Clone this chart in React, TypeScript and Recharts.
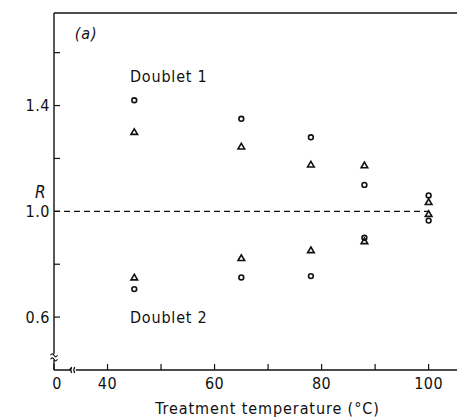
import * as React from 'react'
import {
  ReferenceDot,
  ReferenceLine,
  Scatter,
  ScatterChart,
  XAxis,
  YAxis,
} from 'recharts'

// treatment temperatures (°C)
const temps = [45, 65, 78, 88, 100]

// R values
const d1Circle = [1.42, 1.35, 1.28, 1.1, 1.06]
const d1Triangle = [1.3, 1.245, 1.177, 1.174, 1.035]
const d2Circle = [0.706, 0.75, 0.755, 0.9, 0.965]
const d2Triangle = [0.75, 0.823, 0.853, 0.887, 0.99]

const xTicks = [30, 40, 50, 60, 70, 80, 90, 100]
const xLabelled = [40, 60, 80, 100]
const yTicks = [0.6, 0.8, 1.0, 1.2, 1.4, 1.6]
const yLabelled = [0.6, 1.0, 1.4]

const FONT = "'Liberation Sans Narrow', 'DejaVu Sans Condensed', 'Liberation Sans', sans-serif"
const INK = '#111'

const toPoints = (vals: number[]) => temps.map((t, i) => ({ t, r: vals[i] }))

const OpenCircle = (p: any) => (
  <circle cx={p.cx} cy={p.cy} r={2.4} fill="none" stroke={INK} strokeWidth={1.6} />
)

const OpenTriangle = (p: any) => {
  const { cx, cy } = p
  return (
    <path
      d={`M${cx},${cy - 3.2}L${cx + 3.3},${cy + 2.4}L${cx - 3.3},${cy + 2.4}Z`}
      fill="none"
      stroke={INK}
      strokeWidth={1.6}
      strokeLinejoin="miter"
    />
  )
}

const XTick = (p: any) => {
  const v = p.payload.value
  let text = ''
  if (v === 30) text = '0'
  else if (xLabelled.includes(v)) text = String(v)
  return (
    <text
      x={p.x + (v === 30 ? 3 : 0)}
      y={p.y}
      dy={12}
      textAnchor="middle"
      fontFamily={FONT}
      fontSize={16}
      letterSpacing={0.5}
      fill={INK}
    >
      {text}
    </text>
  )
}

const YBreak = (p: any) => {
  const { cx, cy } = p
  return (
    <g fill="none" stroke={INK} strokeWidth={1.2}>
      <rect x={cx - 2} y={cy - 3} width={4} height={6} fill="#fff" stroke="none" />
      <path d={`M${cx - 3.5},${cy - 1.5} q2,-3 3.5,0 t3.5,0`} />
      <path d={`M${cx - 3.5},${cy + 2.5} q2,-3 3.5,0 t3.5,0`} />
    </g>
  )
}

const XBreak = (p: any) => {
  const { cx, cy } = p
  return (
    <g fill="none" stroke={INK} strokeWidth={1.2}>
      <rect x={cx - 2.5} y={cy - 2} width={5} height={4} fill="#fff" stroke="none" />
      <path d={`M${cx - 4},${cy} l2,-2`} />
      <path d={`M${cx - 1.5},${cy - 3} q-2,3 0,6`} />
      <path d={`M${cx + 1.5},${cy - 3} q-2,3 0,6`} />
    </g>
  )
}

const textLabel = (value: string, size = 16, italic = false) => ({
  value,
  position: 'right' as const,
  offset: 0,
  fill: INK,
  fontFamily: FONT,
  fontSize: size,
  fontStyle: italic ? 'italic' : 'normal',
  letterSpacing: 0.8,
})

export default function App() {
  return (
    <div style={{ position: 'absolute', left: 0, top: 0, background: '#fff' }}>
      <ScatterChart
        width={457}
        height={418}
        margin={{ top: 13, right: 0, bottom: 0, left: 0 }}
      >
        <XAxis
          type="number"
          dataKey="t"
          domain={[30, 105.3]}
          ticks={xTicks}
          interval={0}
          height={48}
          tickSize={-6}
          tickMargin={13}
          tick={<XTick />}
          axisLine={{ stroke: INK, strokeWidth: 1.4 }}
          tickLine={{ stroke: INK, strokeWidth: 1.2 }}
          label={{
            value: 'Treatment temperature (°C)',
            position: 'insideBottom',
            offset: 4,
            dx: 12,
            fill: INK,
            fontFamily: FONT,
            fontSize: 16,
            letterSpacing: 0.9,
          }}
        />
        <YAxis
          type="number"
          dataKey="r"
          domain={[0.4, 1.75]}
          ticks={yTicks}
          interval={0}
          width={54}
          tickSize={-6}
          tickMargin={10}
          tickFormatter={(v: number) => (yLabelled.some((l) => Math.abs(l - v) < 1e-6) ? v.toFixed(1) : '')}
          tick={{ fill: INK, fontFamily: FONT, fontSize: 16, letterSpacing: 0.5 }}
          axisLine={{ stroke: INK, strokeWidth: 1.4 }}
          tickLine={{ stroke: INK, strokeWidth: 1.2 }}
          label={{
            value: 'R',
            position: 'insideLeft',
            offset: 35,
            fill: INK,
            fontFamily: FONT,
            fontSize: 17,
            fontStyle: 'italic',
          }}
        />
        <ReferenceLine y={1.75} stroke={INK} strokeWidth={1.4} ifOverflow="visible" />
        <ReferenceLine
          segment={[{ x: 30, y: 1.0 }, { x: 100, y: 1.0 }]}
          stroke={INK}
          strokeWidth={1.2}
          strokeDasharray="6 4"
        />
        <Scatter data={toPoints(d1Circle)} shape={<OpenCircle />} isAnimationActive={false} />
        <Scatter data={toPoints(d1Triangle)} shape={<OpenTriangle />} isAnimationActive={false} />
        <Scatter data={toPoints(d2Circle)} shape={<OpenCircle />} isAnimationActive={false} />
        <Scatter data={toPoints(d2Triangle)} shape={<OpenTriangle />} isAnimationActive={false} />
        <ReferenceDot x={33.9} y={1.672} r={0} ifOverflow="visible" label={textLabel('(a)', 16, true)} />
        <ReferenceDot x={44.2} y={1.51} r={0} ifOverflow="visible" label={textLabel('Doublet 1')} />
        <ReferenceDot x={44.2} y={0.6} r={0} ifOverflow="visible" label={textLabel('Doublet 2')} />
        <ReferenceDot x={30} y={0.45} ifOverflow="visible" shape={<YBreak />} />
        <ReferenceDot x={33.6} y={0.4} ifOverflow="visible" shape={<XBreak />} />
      </ScatterChart>
    </div>
  )
}
